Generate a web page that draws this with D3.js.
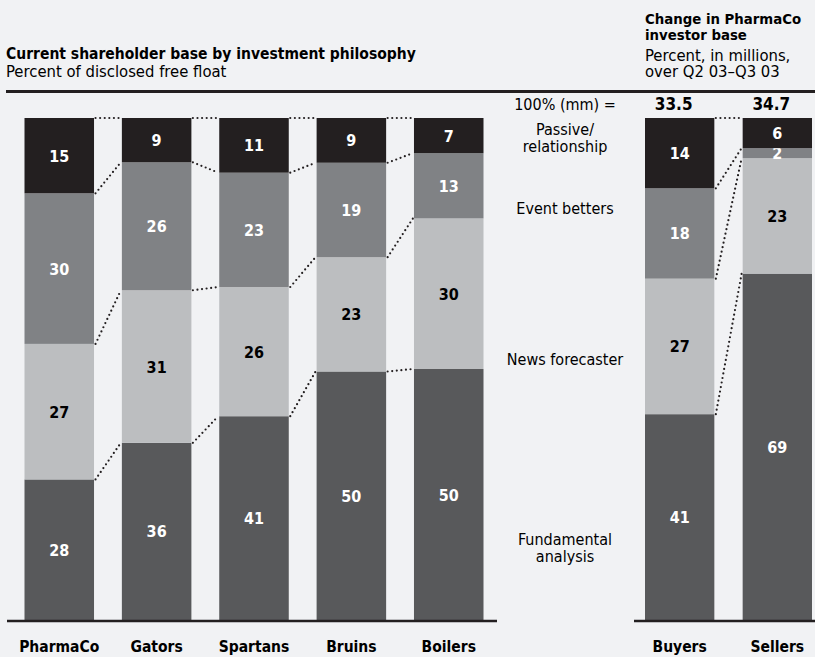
<!DOCTYPE html>
<html>
<head>
<meta charset="utf-8">
<script src="https://cdn.jsdelivr.net/npm/d3@7"></script>
<style>
  html, body { margin: 0; padding: 0; background: #f1f2f4; }
  svg { display: block; font-family: 'DejaVu Sans Condensed', 'DejaVu Sans', sans-serif; font-stretch: condensed; }
</style>
</head>
<body>
<svg id="chart" width="815" height="657"></svg>
<script>
// data
const categories = ['PharmaCo', 'Gators', 'Spartans', 'Bruins', 'Boilers']
const layers = ['fundamental', 'news', 'event', 'passive'] // bottom to top
const fundamental = [28, 36, 41, 50, 50]
const news = [27, 31, 26, 23, 30]
const event = [30, 26, 23, 19, 13]
const passive = [15, 9, 11, 9, 7]

const changeCategories = ['Buyers', 'Sellers']
const changeFundamental = [41, 69]
const changeNews = [27, 23]
const changeEvent = [18, 2]
const changePassive = [14, 6]
const changeTotals = ['33.5', '34.7']

const layerLabels = [['Fundamental', 'analysis'], ['News forecaster'], ['Event betters'], ['Passive/', 'relationship']]

const colors = {
  fundamental: '#58595b',
  news: '#bcbec0',
  event: '#808285',
  passive: '#231f20'
}
const textColors = { fundamental: '#fff', news: '#000', event: '#fff', passive: '#fff' }

const svg = d3.select('#chart')
svg.append('rect').attr('width', 815).attr('height', 657).attr('fill', '#f1f2f4')

const y = d3.scaleLinear().domain([0, 1]).range([620, 118])

function rows (cats, f, n, e, p) {
  return cats.map((c, i) => ({ cat: c, fundamental: f[i], news: n[i], event: e[i], passive: p[i] }))
}

const stack = d3.stack().keys(layers).offset(d3.stackOffsetExpand)

/**
 * Draws one group of 100% stacked bars with dotted connectors.
 */
function drawGroup (data, x) {
  const series = stack(data)
  const g = svg.append('g')

  // connectors between neighbouring bars
  series.forEach((s) => {
    for (let i = 0; i < data.length - 1; i++) {
      g.append('line')
        .attr('x1', x(data[i].cat) + x.bandwidth() + 1.5)
        .attr('x2', x(data[i + 1].cat) - 1)
        .attr('y1', y(s[i][1]))
        .attr('y2', y(s[i + 1][1]))
        .attr('stroke', '#231f20')
        .attr('stroke-width', 2.2)
        .attr('stroke-linecap', 'round')
        .attr('stroke-dasharray', '0 4.6')
    }
  })

  series.forEach((s) => {
    g.selectAll(null)
      .data(s)
      .enter()
      .append('rect')
      .attr('x', d => x(d.data.cat))
      .attr('y', d => y(d[1]))
      .attr('width', x.bandwidth())
      .attr('height', d => y(d[0]) - y(d[1]))
      .attr('fill', colors[s.key])

    g.selectAll(null)
      .data(s)
      .enter()
      .append('text')
      .attr('x', d => x(d.data.cat) + x.bandwidth() / 2)
      .attr('y', d => (y(d[0]) + y(d[1])) / 2 + 6)
      .attr('text-anchor', 'middle')
      .attr('font-size', '16px')
      .attr('font-weight', 'bold')
      .attr('fill', textColors[s.key])
      .text(d => d.data[s.key])
  })

  g.selectAll(null)
    .data(data)
    .enter()
    .append('text')
    .attr('x', d => x(d.cat) + x.bandwidth() / 2)
    .attr('y', 652)
    .attr('text-anchor', 'middle')
    .attr('font-size', '15.5px')
    .attr('font-weight', 'bold')
    .attr('fill', '#000')
    .text(d => d.cat)
  return series
}

const xLeft = d3.scaleBand().domain(categories).range([24.5, 483.5]).paddingInner(0.286)
const xRight = d3.scaleBand().domain(changeCategories).range([645, 812]).paddingInner(0.29)

drawGroup(rows(categories, fundamental, news, event, passive), xLeft)
drawGroup(rows(changeCategories, changeFundamental, changeNews, changeEvent, changePassive), xRight)

// baselines and top rule
svg.append('line').attr('x1', 7).attr('x2', 497).attr('y1', 621).attr('y2', 621)
  .attr('stroke', '#231f20').attr('stroke-width', 2.5)
svg.append('line').attr('x1', 634).attr('x2', 815).attr('y1', 621).attr('y2', 621)
  .attr('stroke', '#231f20').attr('stroke-width', 2.5)
svg.append('line').attr('x1', 6).attr('x2', 815).attr('y1', 91.5).attr('y2', 91.5)
  .attr('stroke', '#231f20').attr('stroke-width', 3)

// titles
svg.append('text').attr('x', 6).attr('y', 59)
  .attr('font-size', '15.5px').attr('font-weight', 'bold')
  .text('Current shareholder base by investment philosophy')
svg.append('text').attr('x', 6).attr('y', 77)
  .attr('font-size', '16.5px')
  .text('Percent of disclosed free float')

const rightTitle = svg.append('g').attr('font-size', '16.5px')
rightTitle.append('text').attr('x', 645).attr('y', 24).attr('font-size', '14.8px').attr('font-weight', 'bold').text('Change in PharmaCo')
rightTitle.append('text').attr('x', 645).attr('y', 40).attr('font-size', '14.8px').attr('font-weight', 'bold').text('investor base')
rightTitle.append('text').attr('x', 645).attr('y', 61).text('Percent, in millions,')
rightTitle.append('text').attr('x', 645).attr('y', 77).text('over Q2 03–Q3 03')

// middle labels
const midX = 565
svg.append('text').attr('x', midX).attr('y', 110).attr('text-anchor', 'middle')
  .attr('font-size', '16px').text('100% (mm) =')
svg.selectAll(null)
  .data(changeCategories)
  .enter()
  .append('text')
  .attr('x', d => xRight(d) + xRight.bandwidth() / 2 - 6)
  .attr('y', 110)
  .attr('text-anchor', 'middle')
  .attr('font-size', '17px')
  .attr('font-weight', 'bold')
  .text((d, i) => changeTotals[i])

const labelBaselines = [545, 365, 214, 135]
layerLabels.forEach((lines, i) => {
  const t = svg.append('text')
    .attr('x', midX)
    .attr('y', labelBaselines[i])
    .attr('text-anchor', 'middle')
    .attr('font-size', '16px')
    .attr('fill', '#000')
  lines.forEach((l, j) => {
    t.append('tspan').attr('x', midX).attr('dy', j === 0 ? 0 : 17).text(l)
  })
})
</script>
</body>
</html>
